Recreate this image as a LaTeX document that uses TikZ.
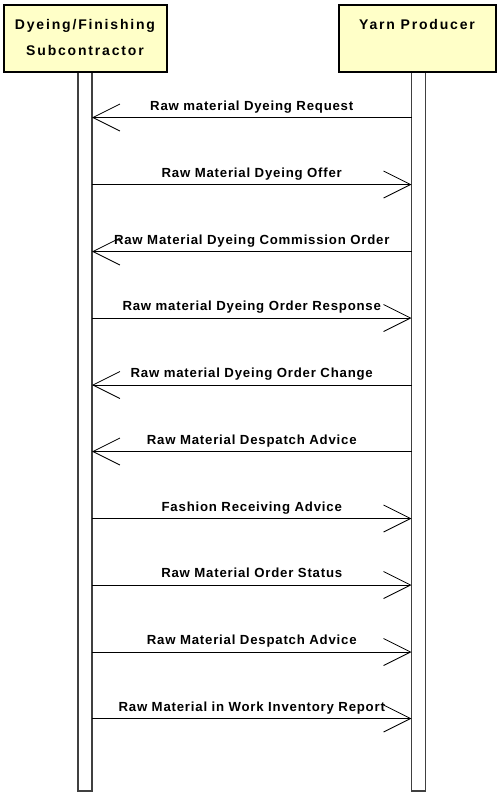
\documentclass[tikz,border=0pt]{standalone}
\usepackage{fontspec}
\setmainfont{Liberation Sans}
\newfontfamily\hdrfont{Liberation Sans}[LetterSpace=13]
\newfontfamily\msgfont{Liberation Sans}[LetterSpace=6]
\usetikzlibrary{calc}
\usetikzlibrary{arrows.meta}
\definecolor{actorfill}{RGB}{255,255,200}
\tikzset{
  actor/.style={
    draw=black, line width=2pt, fill=actorfill,
    minimum width=163pt, minimum height=67pt,
    anchor=north west, align=center, text depth=0pt,
    font=\hdrfont\bfseries\fontsize{14}{17}\selectfont
  },
  lifeline/.style={
    draw=black!75, line width=1.4pt, fill=white,
    minimum width=14pt, minimum height=721pt,
    anchor=north, inner sep=0pt, outer sep=0pt
  },
  msg/.style={
    line width=0.8pt, ->
  },
  msglabel/.style={
    midway, anchor=base, yshift=7.5pt, inner sep=0pt,
    font=\msgfont\bfseries\fontsize{13.2}{15}\selectfont
  }
}

\begin{document}
\begin{tikzpicture}[
      x=1pt, y=-1pt,
      >={Straight Barb[length=27pt, width=27pt, line width=0.8pt]}
    ]
      \useasboundingbox (0,0) rectangle (496,796);
      % lifelines first, boxes on top
      \node [lifeline] (subline) at (85,70) {};
      \node [lifeline] (yarnline) at (418.5,70) {};
      \node [actor, anchor=north west, inner sep=0pt] (sub) at (2.5,3.5)
        {\rule{0pt}{0pt}\\[-9pt]Dyeing/Finishing\\[9pt]Subcontractor};
      \node [actor, anchor=north west, minimum width=157pt, inner sep=0pt] (yarn) at (337.5,3.5)
        {\rule{0pt}{0pt}\\[-9pt]Yarn Producer\\[9pt]\mbox{}};
      % message rows
      \foreach \i/\y/\from/\to/\txt in {
          1/117.5/y/s/{Raw material Dyeing Request},
          2/184.5/s/y/{Raw Material Dyeing Offer},
          3/251.5/y/s/{Raw Material Dyeing Commission Order},
          4/318/s/y/{Raw material Dyeing Order Response},
          5/385/y/s/{Raw material Dyeing Order Change},
          6/451.5/y/s/{Raw Material Despatch Advice},
          7/518.5/s/y/{Fashion Receiving Advice},
          8/585/s/y/{Raw Material Order Status},
          9/652/s/y/{Raw Material Despatch Advice},
          10/718.5/s/y/{Raw Material in Work Inventory Report}} {
        \coordinate (s\i) at (subline.east |- 0,\y);
        \coordinate (y\i) at (yarnline.west |- 0,\y);
        \draw [msg] (\from\i) -- (\to\i) node [msglabel] {\txt};
      }
    \end{tikzpicture}
\end{document}
